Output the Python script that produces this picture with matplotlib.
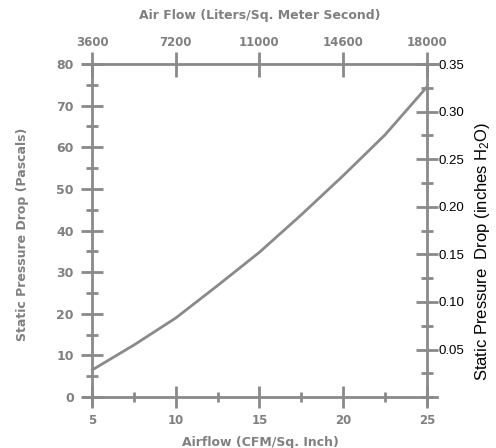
import matplotlib
import matplotlib.pyplot as plt
from matplotlib.ticker import MultipleLocator

matplotlib.use("Agg")
plt.rcParams["mathtext.fontset"] = "custom"
plt.rcParams["mathtext.rm"] = "Liberation Sans"
plt.rcParams["mathtext.default"] = "regular"

# airflow in CFM/sq. inch and pressure drop in Pascals
airflow = [5, 7.5, 10, 12.5, 15, 17.5, 20, 22.5, 25]
pressure_pa = [6.5, 12.5, 19, 26.8, 34.8, 43.8, 53.2, 63, 74.5]

top_ticks = [5, 10, 15, 20, 25]
top_labels = ["3600", "7200", "11000", "14600", "18000"]
left_ticks = [0, 10, 20, 30, 40, 50, 60, 70, 80]
bottom_ticks = [5, 10, 15, 20, 25]
right_ticks = [0.05, 0.10, 0.15, 0.20, 0.25, 0.30, 0.35]

GRAY = "#8a8a8a"
TEXT_GRAY = "#808080"


def main():
    fig = plt.figure(figsize=(4.96, 4.48), dpi=100)
    ax = fig.add_axes([83 / 496, 1 - 405 / 448, (437 - 83) / 496,
                       (405 - 64) / 448])
    xlim = (4.46, 25.6)
    ylim = (-1.9, 80)
    ax.set_xlim(*xlim)
    ax.set_ylim(*ylim)

    ax.plot(airflow, pressure_pa, color=GRAY, lw=2, solid_capstyle="round")

    for side in ["top", "right"]:
        ax.spines[side].set_visible(False)
    ax.spines["left"].set_position(("data", 5))
    ax.spines["bottom"].set_position(("data", 0))
    for side in ["left", "bottom"]:
        ax.spines[side].set_color(GRAY)
        ax.spines[side].set_linewidth(2)

    ax.set_yticks(left_ticks)
    ax.yaxis.set_minor_locator(MultipleLocator(5))
    ax.set_xticks(bottom_ticks)
    ax.xaxis.set_minor_locator(MultipleLocator(2.5))
    ax.tick_params(axis="y", which="major", direction="inout", length=16,
                   width=2, color=GRAY, labelsize=9, labelcolor=TEXT_GRAY,
                   pad=5)
    ax.tick_params(axis="y", which="minor", direction="inout", length=8,
                   width=2, color=GRAY)
    ax.tick_params(axis="x", which="major", direction="inout", length=16,
                   width=2, color=GRAY, labelsize=8.5, labelcolor=TEXT_GRAY,
                   pad=4)
    ax.tick_params(axis="x", which="minor", direction="inout", length=7,
                   width=2, color=GRAY)
    for lbl in ax.get_xticklabels() + ax.get_yticklabels():
        lbl.set_fontweight("bold")

    ax.set_ylabel("Static Pressure Drop (Pascals)", fontsize=9,
                  fontweight="bold", color=TEXT_GRAY, labelpad=20)
    ax.set_xlabel("Airflow (CFM/Sq. Inch)", fontsize=9, fontweight="bold",
                  color=TEXT_GRAY, labelpad=7)

    # top axis in liters per square meter second
    top = ax.secondary_xaxis("top")
    top.set_xticks(top_ticks, top_labels)
    top.spines["top"].set_color(GRAY)
    top.spines["top"].set_linewidth(2)
    top.tick_params(axis="x", direction="inout", length=18, width=2,
                    color=GRAY, labelsize=8.5, labelcolor=TEXT_GRAY, pad=2)
    for lbl in top.get_xticklabels():
        lbl.set_fontweight("bold")
    top.set_xlabel("Air Flow (Liters/Sq. Meter Second)", fontsize=9,
                   fontweight="bold", color=TEXT_GRAY, labelpad=12)

    # right axis in inches of water
    right = ax.twinx()
    right.set_ylim(ylim[0] * 0.35 / 80, 0.35)
    for side in ["top", "left", "bottom"]:
        right.spines[side].set_visible(False)
    right.spines["right"].set_position(("data", 25))
    right.spines["right"].set_color(GRAY)
    right.spines["right"].set_linewidth(2)
    right.set_yticks(right_ticks)
    right.set_yticklabels([f"{v:.2f}" for v in right_ticks],
                          family="Liberation Sans")
    right.yaxis.set_minor_locator(MultipleLocator(0.025))
    right.tick_params(axis="y", which="major", direction="inout", length=16,
                      width=2, color=GRAY, labelsize=9.5, pad=0.5)
    right.tick_params(axis="y", which="minor", direction="inout", length=8,
                      width=2, color=GRAY)
    right.set_ylabel(r"Static Pressure  Drop (inches H$_2$O)",
                     family="Liberation Sans", fontsize=12, labelpad=6)
    right.yaxis.label.set_y(0.45)

    fig.savefig("out.png", dpi=100)
    return 0


if __name__ == "__main__":
    main()
